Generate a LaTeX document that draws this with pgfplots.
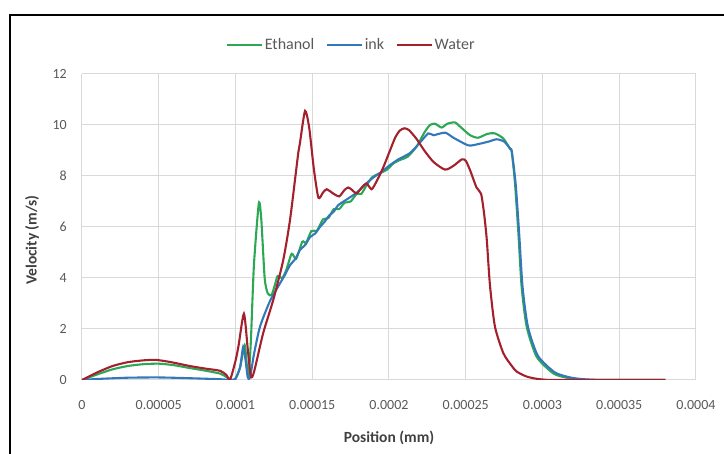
\documentclass[border=0pt]{standalone}
\usepackage{pgfplots}
\pgfplotsset{compat=1.18}
\usepackage{fontspec}
\setmainfont{Carlito}
\definecolor{ethc}{RGB}{44,168,84}
\definecolor{inkc}{RGB}{52,120,186}
\definecolor{watc}{RGB}{164,32,44}
\definecolor{gridc}{RGB}{217,217,217}
\definecolor{tickc}{RGB}{89,89,89}
\definecolor{titc}{RGB}{64,64,64}
\begin{document}
\begin{tikzpicture}[x=1pt,y=1pt]
\begin{axis}[
  at={(82pt,74pt)}, anchor=south west,
  scale only axis, width=614pt, height=306pt,
  xmin=0, xmax=0.0004, ymin=0, ymax=12,
  scaled x ticks=false,
  xtick={0,0.00005,0.0001,0.00015,0.0002,0.00025,0.0003,0.00035,0.0004},
  xticklabels={0,0.00005,0.0001,0.00015,0.0002,0.00025,0.0003,0.00035,0.0004},
  ytick={0,2,4,6,8,10,12},
  /pgf/number format/assume math mode=true,
  grid=major,
  major grid style={draw=gridc, line width=1pt},
  axis line style={draw=none},
  tick style={draw=none},
  ticklabel style={font=\fontsize{14}{16}\selectfont, text=tickc},
  xticklabel style={anchor=center, inner sep=0pt, yshift=-25pt},
  yticklabel style={anchor=east, inner sep=0pt, xshift=-15pt},
  xlabel={Position (mm)},
  ylabel={Velocity (m/s)},
  label style={font=\fontsize{15.5}{17}\selectfont\bfseries, text=titc},
  xlabel style={at={(axis description cs:0.5,-0.19)}, anchor=center},
  ylabel style={at={(axis description cs:-0.0814,0.457)}, anchor=center},
  legend style={at={(0.438,1.095)}, anchor=center, legend columns=3, draw=none, fill=none,
    font=\fontsize{16}{18}\selectfont, text=tickc,
    nodes={inner sep=1.5pt},
    /tikz/every even column/.append style={column sep=10pt}},
  legend image code/.code={\draw[#1, line width=2.5pt] (0pt,0pt) -- (35pt,0pt);},
  every axis plot/.append style={line width=2.1pt, smooth, tension=0.4},
]
\addplot[color=ethc] coordinates {
(0,0) (0.00001,0.22) (0.00002,0.42) (0.00003,0.55) (0.00004,0.62) (0.00005,0.64)
(0.00006,0.58) (0.00007,0.47) (0.00008,0.37) (0.00009,0.25) (0.000094,0.12) (0.000097,0.0)
(0.0001,0.05) (0.000103,0.5) (0.000106,1.37) (0.0001075,0.5) (0.0001085,0.12)
(0.00011,1.5) (0.000112,4.5) (0.0001152,6.93) (0.0001168,6.3) (0.000119,4.0)
(0.000121,3.4) (0.0001235,3.33) (0.000126,3.8) (0.0001275,4.08) (0.0001305,4.0)
(0.000133,4.3) (0.0001366,4.95) (0.0001395,4.75) (0.0001435,5.42) (0.000146,5.38)
(0.0001495,5.85) (0.000153,5.85) (0.000157,6.3) (0.0001605,6.35) (0.000164,6.7)
(0.0001675,6.7) (0.000171,6.95) (0.000175,7.0) (0.000179,7.3) (0.000182,7.3)
(0.0001855,7.65) (0.000189,7.95) (0.000192,8.05) (0.0001985,8.24) (0.000203,8.5)
(0.0002072,8.63) (0.000212,8.75) (0.000218,9.15) (0.000223,9.7) (0.0002267,10.0)
(0.00023,10.05) (0.0002343,9.9) (0.000238,10.05) (0.000243,10.1) (0.000247,9.9)
(0.0002528,9.6) (0.000258,9.5) (0.000264,9.65) (0.000269,9.67) (0.0002745,9.47)
(0.000279,9.05) (0.00028,8.95) (0.0002821,7.7) (0.0002843,5.75) (0.0002864,3.66)
(0.0002897,2.09) (0.0002962,0.91) (0.000307,0.26) (0.000315,0.1) (0.0003222,0.03)
(0.00033,0.0) (0.00038,0.0)
};
\addlegendentry{Ethanol}
\addplot[color=inkc] coordinates {
(0,0) (0.00001,0.04) (0.00003,0.09) (0.00005,0.1) (0.00007,0.07) (0.00009,0.03)
(0.000097,0.0) (0.0001,0.05) (0.000103,0.5) (0.000105,1.3) (0.0001065,0.8)
(0.000108,0.1) (0.0001095,0.1) (0.000112,1.0) (0.000116,2.1) (0.0001225,3.1)
(0.000129,3.79) (0.000132,4.1) (0.0001355,4.5) (0.000139,4.75) (0.000142,5.1)
(0.0001455,5.3) (0.0001485,5.6) (0.000152,5.75) (0.000155,6.0) (0.000158,6.2)
(0.000161,6.45) (0.000164,6.6) (0.000167,6.86) (0.000173,7.1) (0.000179,7.35)
(0.000185,7.7) (0.00019,7.95) (0.000196,8.2) (0.0002,8.4) (0.000206,8.65)
(0.0002137,8.9) (0.00022,9.3) (0.0002256,9.67) (0.000229,9.6) (0.0002365,9.7)
(0.000242,9.5) (0.0002517,9.2) (0.000258,9.25) (0.000265,9.35) (0.00027,9.44)
(0.000275,9.35) (0.0002788,9.08) (0.00028,8.95) (0.0002825,7.7) (0.0002848,5.75)
(0.000287,3.66) (0.0002905,2.09) (0.000297,0.95) (0.000308,0.3) (0.000318,0.1)
(0.000327,0.03) (0.00034,0.0) (0.00038,0.0)
};
\addlegendentry{ink}
\addplot[color=watc] coordinates {
(0,0) (0.00001,0.3) (0.00002,0.55) (0.00003,0.7) (0.00004,0.77) (0.000048,0.79)
(0.000058,0.7) (0.00007,0.55) (0.00008,0.45) (0.00009,0.36) (0.000094,0.2)
(0.0000965,0.02) (0.0001,0.75) (0.000102,1.35) (0.0001055,2.6) (0.000108,1.2)
(0.00011,0.15) (0.000112,0.3) (0.000118,1.83) (0.0001246,3.14) (0.0001311,4.7)
(0.0001355,6.27) (0.0001398,8.37) (0.000141,8.95) (0.000142,9.3) (0.0001453,10.55)
(0.000148,9.9) (0.000151,8.3)
(0.000154,7.15) (0.000157,7.35) (0.0001594,7.48) (0.000164,7.3) (0.0001676,7.2)
(0.000171,7.45) (0.0001735,7.55) (0.000176,7.45) (0.000179,7.32) (0.000183,7.6)
(0.0001855,7.7) (0.0001887,7.48) (0.000192,7.8) (0.000196,8.3) (0.0002,8.9)
(0.000204,9.5) (0.000207,9.78) (0.00021,9.87) (0.000213,9.8) (0.000218,9.45)
(0.000223,9.0) (0.000229,8.55) (0.0002365,8.25) (0.000242,8.4) (0.0002474,8.65)
(0.00025,8.6) (0.000253,8.2) (0.000257,7.55) (0.00026,7.3) (0.000262,6.5)
(0.0002637,5.5) (0.0002658,3.7) (0.000269,2.1) (0.0002745,1.05) (0.00028,0.55)
(0.0002832,0.33) (0.000289,0.15) (0.000294,0.07) (0.0003,0.02) (0.00031,0.0)
(0.00038,0.0)
};
\addlegendentry{Water}
\end{axis}
\draw[line width=2.5pt, black] (10,-20) -- (10,439) -- (760,439);
\pgfresetboundingbox
\useasboundingbox (0,0) rectangle (724,454);
\end{tikzpicture}
\end{document}
